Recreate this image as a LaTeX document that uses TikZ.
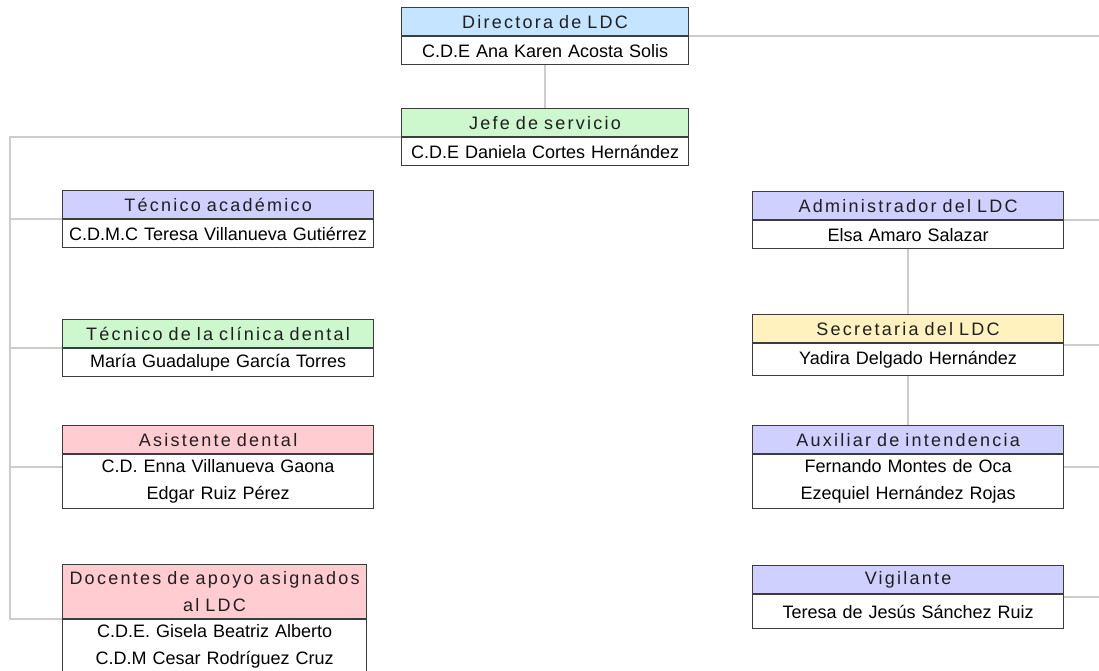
\documentclass[tikz,border=0pt]{standalone}
\usepackage{fontspec}
\setmainfont{Liberation Sans}
\newfontfamily\cargofont[LetterSpace=12.5]{Liberation Sans}
\usepackage{tikz}
\usetikzlibrary{positioning,calc}

\definecolor{azul}{HTML}{C4E4FF}
\definecolor{verde}{HTML}{CDF7CD}
\definecolor{lila}{HTML}{D0D0FF}
\definecolor{rosa}{HTML}{FFCCD2}
\definecolor{crema}{HTML}{FFF2BF}
\definecolor{marco}{HTML}{3C3C3C}
\definecolor{gris}{HTML}{CCCCCC}

\tikzset{
  cargo/.style={draw=marco, line width=1.2pt, fill=#1, inner sep=0pt, minimum height=28pt, align=center, text=black!88, font=\cargofont\fontsize{18}{27}\selectfont},
  nombre/.style={draw=marco, line width=1.2pt, fill=white, inner sep=0pt, minimum height=28pt, align=center, font=\fontsize{18}{27}\selectfont},
  linea/.style={gris, line width=1.5pt},
}

\begin{document}
\begin{tikzpicture}[x=1pt,y=-1pt]
\useasboundingbox (0,0) rectangle (1099,670);
\coordinate (tronco) at (10,0);
\coordinate (borde) at (1099,0);

% direccion
\node[cargo=azul, text width=287pt, anchor=north west] (dir) at (401,7) {Directora de LDC};
\node[nombre, text width=287pt, below=0pt of dir] (dirN) {C.D.E Ana Karen Acosta Solis};
\node[cargo=verde, text width=287pt, anchor=north west] (jefe) at (401,108) {Jefe de servicio};
\node[nombre, text width=287pt, below=0pt of jefe] (jefeN) {C.D.E Daniela Cortes Hern\'andez};

% columna izquierda
\node[cargo=lila, text width=311pt, anchor=north west] (tecA) at (62,190) {T\'ecnico acad\'emico};
\node[nombre, text width=311pt, below=0pt of tecA] (tecAN) {C.D.M.C Teresa Villanueva Guti\'errez};
\node[cargo=verde, text width=311pt, anchor=north west] (tecC) at (62,319) {T\'ecnico de la cl\'inica dental};
\node[nombre, text width=311pt, below=0pt of tecC] (tecCN) {Mar\'ia Guadalupe Garc\'ia Torres};
\node[cargo=rosa, text width=311pt, anchor=north west] (asis) at (62,425) {Asistente dental};
\node[nombre, text width=311pt, minimum height=54pt, below=0pt of asis] (asisN) {C.D. Enna Villanueva Gaona\\Edgar Ruiz P\'erez};
\node[cargo=rosa, text width=304pt, minimum height=54pt, anchor=north west] (doc) at (62,564) {Docentes de apoyo asignados\\al LDC};
\node[nombre, text width=304pt, minimum height=54pt, below=0pt of doc] (docN) {C.D.E. Gisela Beatriz Alberto\\C.D.M Cesar Rodr\'iguez Cruz};

% columna derecha
\node[cargo=lila, text width=311pt, anchor=north west] (adm) at (752,191) {Administrador del LDC};
\node[nombre, text width=311pt, below=0pt of adm] (admN) {Elsa Amaro Salazar};
\node[cargo=crema, text width=311pt, anchor=north west] (sec) at (752,314) {Secretaria del LDC};
\node[nombre, text width=311pt, minimum height=32pt, below=0pt of sec] (secN) {Yadira Delgado Hern\'andez};
\node[cargo=lila, text width=311pt, anchor=north west] (aux) at (752,425) {Auxiliar de intendencia};
\node[nombre, text width=311pt, minimum height=54pt, below=0pt of aux] (auxN) {Fernando Montes de Oca\\Ezequiel Hern\'andez Rojas};
\node[cargo=lila, text width=311pt, anchor=north west] (vig) at (752,565) {Vigilante};
\node[nombre, text width=311pt, minimum height=34pt, below=0pt of vig] (vigN) {Teresa de Jes\'us S\'anchez Ruiz};

% puntos medios de cada caja
\foreach \p in {jefe,tecA,tecC,asis,doc}
  \coordinate (\p M) at ($(\p.north west)!.5!(\p N.south west)$);
\foreach \p in {dir,adm,sec,aux,vig}
  \coordinate (\p M) at ($(\p.north east)!.5!(\p N.south east)$);

% lineas
\draw[linea] (dirN.south) -- (jefe.north);
\draw[linea] (jefeM) -| (tronco |- docM) -- (docM);
\foreach \p in {tecA,tecC,asis}
  \draw[linea] (tronco |- \p M) -- (\p M);
\draw[linea] (admN.south) -- (sec.north);
\draw[linea] (secN.south) -- (aux.north);
\foreach \p in {dir,adm,sec,aux,vig}
  \draw[linea] (\p M) -- (\p M -| borde);
\end{tikzpicture}
\end{document}
